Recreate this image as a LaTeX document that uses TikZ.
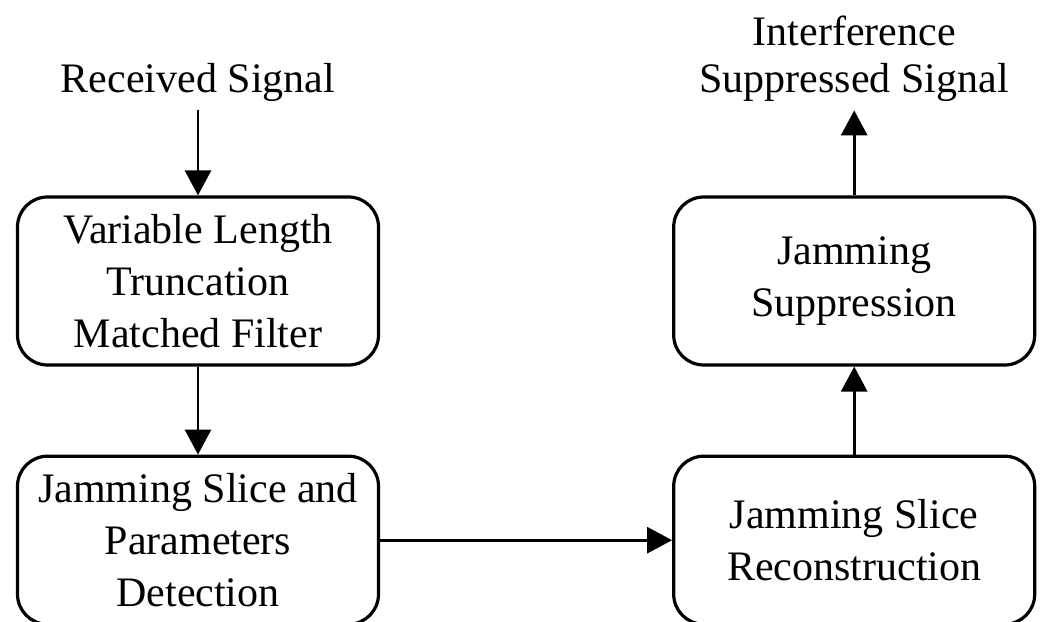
\documentclass[tikz,border=0pt]{standalone}
\usepackage{fontspec}
\setmainfont{Liberation Serif}
\usetikzlibrary{arrows.meta, positioning}

\begin{document}
\begin{tikzpicture}[
  every node/.style={font=\fontsize{21}{26}\selectfont},
  block/.style={rectangle, rounded corners=15pt, draw=black, line width=1.6pt,
                minimum width=180.5pt, minimum height=84pt, align=center},
  lbl/.style={inner xsep=1.5pt, inner ysep=4pt, align=center},
  arr/.style={-{Triangle[length=12.5pt, width=13pt]}, line width=1.4pt, black},
  node distance=44pt
]
\useasboundingbox (-99pt,140.5pt) rectangle (422.5pt,-170pt);

\node[block] (vltmf) {Variable Length\\Truncation\\Matched Filter};
\node[block, below=of vltmf] (det) {Jamming Slice and\\Parameters\\Detection};
\node[block, right=146pt of vltmf] (supp) {Jamming\\Suppression};
\node[block, below=of supp] (recon) {Jamming Slice\\Reconstruction};

\node[lbl, above=42.5pt of vltmf] (rx) {Received Signal};
\node[lbl, above=42.5pt of supp, font=\fontsize{21}{23.5}\selectfont] (out) {Interference\\Suppressed Signal};

\draw[arr] (rx) -- (vltmf);
\draw[arr] (vltmf) -- (det);
\draw[arr] (det) -- (recon);
\draw[arr] (recon) -- (supp);
\draw[arr] (supp) -- (out);
\end{tikzpicture}
\end{document}
